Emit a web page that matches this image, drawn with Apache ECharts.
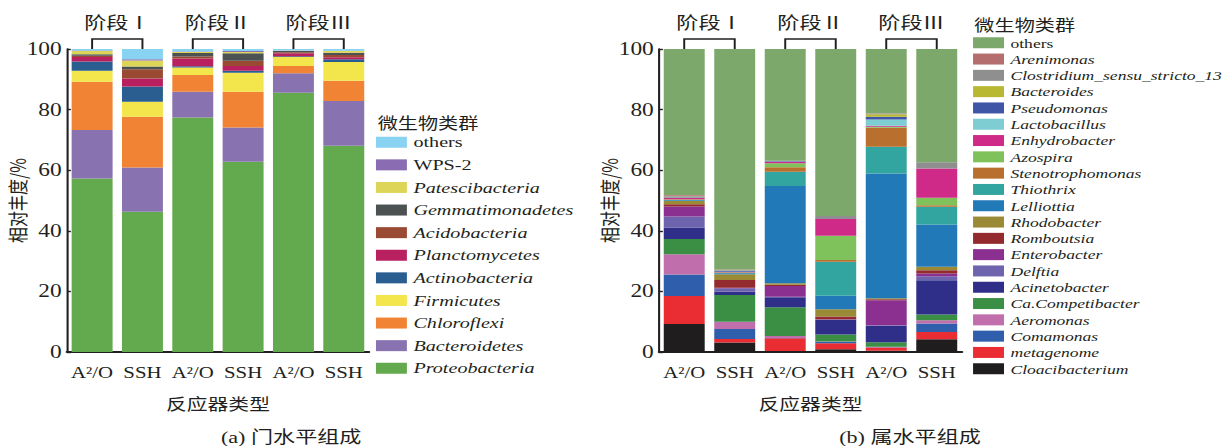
<!DOCTYPE html>
<html>
<head>
<meta charset="utf-8">
<script src="https://cdn.jsdelivr.net/npm/echarts@6/dist/echarts.min.js"></script>
<style>
  html, body { margin: 0; padding: 0; background: #ffffff; overflow: hidden; }
  /* the figure is drawn 1.3x wider than tall in its print layout */
  #chart { width: 947px; height: 446px; transform: scaleX(1.3); transform-origin: 0 0; }
</style>
</head>
<body>
<div id="chart"></div>
<script>
// ---- data -------------------------------------------------------------
const reactors = ['A²/O', 'SSH', 'A²/O', 'SSH', 'A²/O', 'SSH'];
const stageLabels = ['阶段Ⅰ', '阶段Ⅱ', '阶段Ⅲ'];
const yTicks = [0, 20, 40, 60, 80, 100];

// phylum level, bottom of the stack first (relative abundance, %)
const phylumNames = ['Proteobacteria', 'Bacteroidetes', 'Chloroflexi', 'Firmicutes',
  'Actinobacteria', 'Planctomycetes', 'Acidobacteria', 'Gemmatimonadetes',
  'Patescibacteria', 'WPS-2', 'others'];
const phylumShares = [
  [57.3, 46.3, 77.4, 62.8, 85.6, 68.1],
  [16.0, 14.6,  8.5, 11.3,  6.4, 14.7],
  [15.9, 16.7,  5.5, 11.8,  2.4,  6.7],
  [ 3.6,  5.0,  2.5,  6.3,  3.0,  6.2],
  [ 3.1,  5.0,  0.4,  0.6,  0.2,  0.9],
  [ 1.5,  2.7,  2.6,  1.6,  1.0,  0.7],
  [ 0.4,  3.0,  0.6,  1.7,  0.3,  0.7],
  [ 0.5,  0.9,  1.2,  2.5,  0.4,  0.8],
  [ 1.0,  2.0,  0.3,  0.4,  0.1,  0.5],
  [ 0.2,  0.4,  0.2,  0.3,  0.1,  0.1],
  [ 0.5,  3.4,  0.8,  0.7,  0.5,  0.6]
];

// genus level, bottom of the stack first (relative abundance, %)
const genusNames = ['Cloacibacterium', 'metagenome', 'Comamonas', 'Aeromonas',
  'Ca.Competibacter', 'Acinetobacter', 'Delftia', 'Enterobacter', 'Romboutsia',
  'Rhodobacter', 'Lelliottia', 'Thiothrix', 'Stenotrophomonas', 'Azospira',
  'Enhydrobacter', 'Lactobacillus', 'Pseudomonas', 'Bacteroides',
  'Clostridium_sensu_stricto_13', 'Arenimonas', 'others'];
const genusShares = [
  [ 9.2,  3.1,  0.3,  0.9,  0.4,  4.2],
  [ 9.3,  1.2,  4.2,  2.0,  1.1,  2.4],
  [ 7.1,  3.3,  0.1,  0.5,  0.1,  2.8],
  [ 6.7,  2.4,  0.7,  0.1,  0.1,  1.1],
  [ 5.0,  8.8,  9.5,  2.3,  1.5,  1.9],
  [ 3.8,  1.1,  3.3,  4.8,  5.5, 11.3],
  [ 3.6,  1.1,  0.1,  0.1,  0.1,  1.3],
  [ 3.3,  0.2,  3.6,  0.1,  8.3,  0.9],
  [ 0.8,  2.6,  0.4,  0.9,  0.3,  1.1],
  [ 1.0,  1.9,  0.5,  2.4,  0.3,  1.1],
  [ 0.3,  0.3, 32.1,  4.5, 41.2, 14.0],
  [ 0.1,  0.1,  4.7, 11.2,  8.8,  5.8],
  [ 0.1,  0.1,  1.5,  0.6,  6.3,  0.5],
  [ 0.1,  0.1,  1.3,  8.0,  0.3,  2.5],
  [ 0.4,  0.1,  0.5,  5.5,  0.4,  9.7],
  [ 0.1,  0.1,  0.1,  0.0,  2.0,  0.0],
  [ 0.2,  0.3,  0.1,  0.0,  0.9,  0.0],
  [ 0.1,  0.1,  0.0,  0.0,  0.9,  0.0],
  [ 0.4,  0.2,  0.1,  1.0,  0.2,  2.0],
  [ 0.2,  0.1,  0.0,  0.0,  0.1,  0.0],
  [48.2, 72.8, 36.9, 55.1, 21.2, 37.4]
];

// ---- styles -----------------------------------------------------------
const phylumColors = ['#63a94d', '#8873b0', '#f08434', '#f3e64c', '#2a5e91',
  '#b9205f', '#9a4a32', '#4b5251', '#dcd557', '#8a6cb2', '#87d3f1'];
const genusColors = ['#1f1d1e', '#ea2c33', '#2f5fac', '#c16ead', '#3a8f45',
  '#2f2f8a', '#6e64ad', '#8b2f90', '#922a2e', '#9a8a36', '#2279b8', '#33a5a0',
  '#b96f2e', '#7fc25c', '#cf2a87', '#7dcdd2', '#3f56a6', '#b8b832', '#8f8f8f',
  '#b56e6e', '#7da86c'];
const uprightNames = ['others', 'WPS-2'];

const INK = '#231f20';
const SERIF = "'Liberation Serif', 'Noto Sans CJK SC', serif";
const CJK = "'Noto Sans CJK SC', 'Liberation Serif', sans-serif";

function legendFor(names, colors, left, top, fontSize, rowGap) {
  return {
    orient: 'vertical', left: left, top: top, padding: 0,
    itemWidth: 23.8, itemHeight: 11, itemGap: rowGap, icon: 'rect',
    selectedMode: false,
    data: names.map((n, i) => ({ name: n, itemStyle: { color: colors[i], borderWidth: 0 } })).reverse(),
    formatter: n => uprightNames.includes(n) ? '{u|' + n + '}' : '{i|' + n + '}',
    textStyle: {
      color: INK, fontFamily: SERIF, fontSize: fontSize, lineHeight: fontSize,
      rich: {
        u: { fontFamily: SERIF, fontSize: fontSize, lineHeight: fontSize, color: INK },
        i: { fontFamily: SERIF, fontSize: fontSize, lineHeight: fontSize, color: INK, fontStyle: 'italic' }
      }
    }
  };
}

function xAxisFor(gridIndex) {
  return {
    type: 'category', gridIndex: gridIndex, data: reactors,
    name: '反应器类型', nameLocation: 'middle', nameGap: 43,
    nameTextStyle: { color: INK, fontFamily: CJK, fontSize: 16 },
    axisLine: { lineStyle: { color: INK, width: 2 } },
    axisTick: { inside: true, alignWithLabel: true, interval: 0, length: 4, lineStyle: { color: INK, width: 1.4 } },
    axisLabel: { interval: 0, color: INK, fontFamily: SERIF, fontSize: 16, margin: 12 }
  };
}

function yAxisFor(gridIndex) {
  return {
    type: 'value', gridIndex: gridIndex,
    min: yTicks[0], max: yTicks[yTicks.length - 1], interval: yTicks[1] - yTicks[0],
    name: '相对丰度/%', nameLocation: 'middle', nameRotate: 90, nameGap: 31,
    nameMoveOverlap: false,
    nameTextStyle: { color: INK, fontFamily: CJK, fontSize: 16 },
    splitLine: { show: false },
    axisLine: { show: true, lineStyle: { color: INK, width: 1.6 } },
    axisTick: { show: true, inside: true, length: 3, lineStyle: { color: INK, width: 1.4 } },
    axisLabel: { color: INK, fontFamily: SERIF, fontSize: 18, margin: 4 }
  };
}

function stackFor(names, shares, colors, axisIndex, stackId) {
  return names.map((n, k) => ({
    type: 'bar', name: n, stack: stackId,
    xAxisIndex: axisIndex, yAxisIndex: axisIndex,
    barWidth: 31.5,
    itemStyle: { color: colors[k] },
    data: shares[k]
  }));
}

// bracket joining the two reactors of one stage, with the stage name above it
function stageBrackets(axisIndex) {
  return {
    type: 'custom', xAxisIndex: axisIndex, yAxisIndex: axisIndex,
    silent: true, clip: false, z: 10,
    data: stageLabels.map((s, i) => [2 * i, yTicks[yTicks.length - 1]]),
    renderItem: function (params, api) {
      const a = api.coord([api.value(0), api.value(1)]);
      const b = api.coord([api.value(0) + 1, api.value(1)]);
      const rise = 10;
      return {
        type: 'group',
        children: [
          {
            type: 'polyline',
            shape: { points: [[a[0], a[1]], [a[0], a[1] - rise], [b[0], b[1] - rise], [b[0], b[1]]] },
            style: { stroke: INK, lineWidth: 1.5, fill: null }
          },
          {
            type: 'text', x: (a[0] + b[0]) / 2, y: a[1] - 27,
            style: {
              text: stageLabels[params.dataIndex], fill: INK,
              fontFamily: CJK, fontSize: 17, align: 'center', verticalAlign: 'middle'
            }
          }
        ]
      };
    }
  };
}

const chart = echarts.init(document.getElementById('chart'), null, { renderer: 'svg' });
chart.setOption({
  animation: false,
  backgroundColor: '#ffffff',
  title: [
    { text: '微生物类群', left: 290.5, top: 114, padding: 0,
      textStyle: { color: INK, fontFamily: CJK, fontSize: 15.5, fontWeight: 'normal' } },
    { text: '微生物类群', left: 749.5, top: 16, padding: 0,
      textStyle: { color: INK, fontFamily: CJK, fontSize: 15.5, fontWeight: 'normal' } },
    { text: '(a) 门水平组成', left: 224, top: 428, padding: 0, textAlign: 'center',
      textStyle: { color: INK, fontFamily: SERIF, fontSize: 17, fontWeight: 'normal' } },
    { text: '(b) 属水平组成', left: 700, top: 428, padding: 0, textAlign: 'center',
      textStyle: { color: INK, fontFamily: SERIF, fontSize: 17, fontWeight: 'normal' } }
  ],
  legend: [
    legendFor(phylumNames, phylumColors, 289.2, 134.5, 15.5, 7.1),
    legendFor(genusNames, genusColors, 748.5, 36, 13.5, 2.8)
  ],
  grid: [
    { left: 51.5, top: 49, width: 232.3, height: 303 },
    { left: 506.9, top: 49, width: 233.1, height: 303 }
  ],
  xAxis: [xAxisFor(0), xAxisFor(1)],
  yAxis: [yAxisFor(0), yAxisFor(1)],
  series: [
    ...stackFor(phylumNames, phylumShares, phylumColors, 0, 'phylum'),
    ...stackFor(genusNames, genusShares, genusColors, 1, 'genus'),
    stageBrackets(0),
    stageBrackets(1)
  ]
});
</script>
</body>
</html>
